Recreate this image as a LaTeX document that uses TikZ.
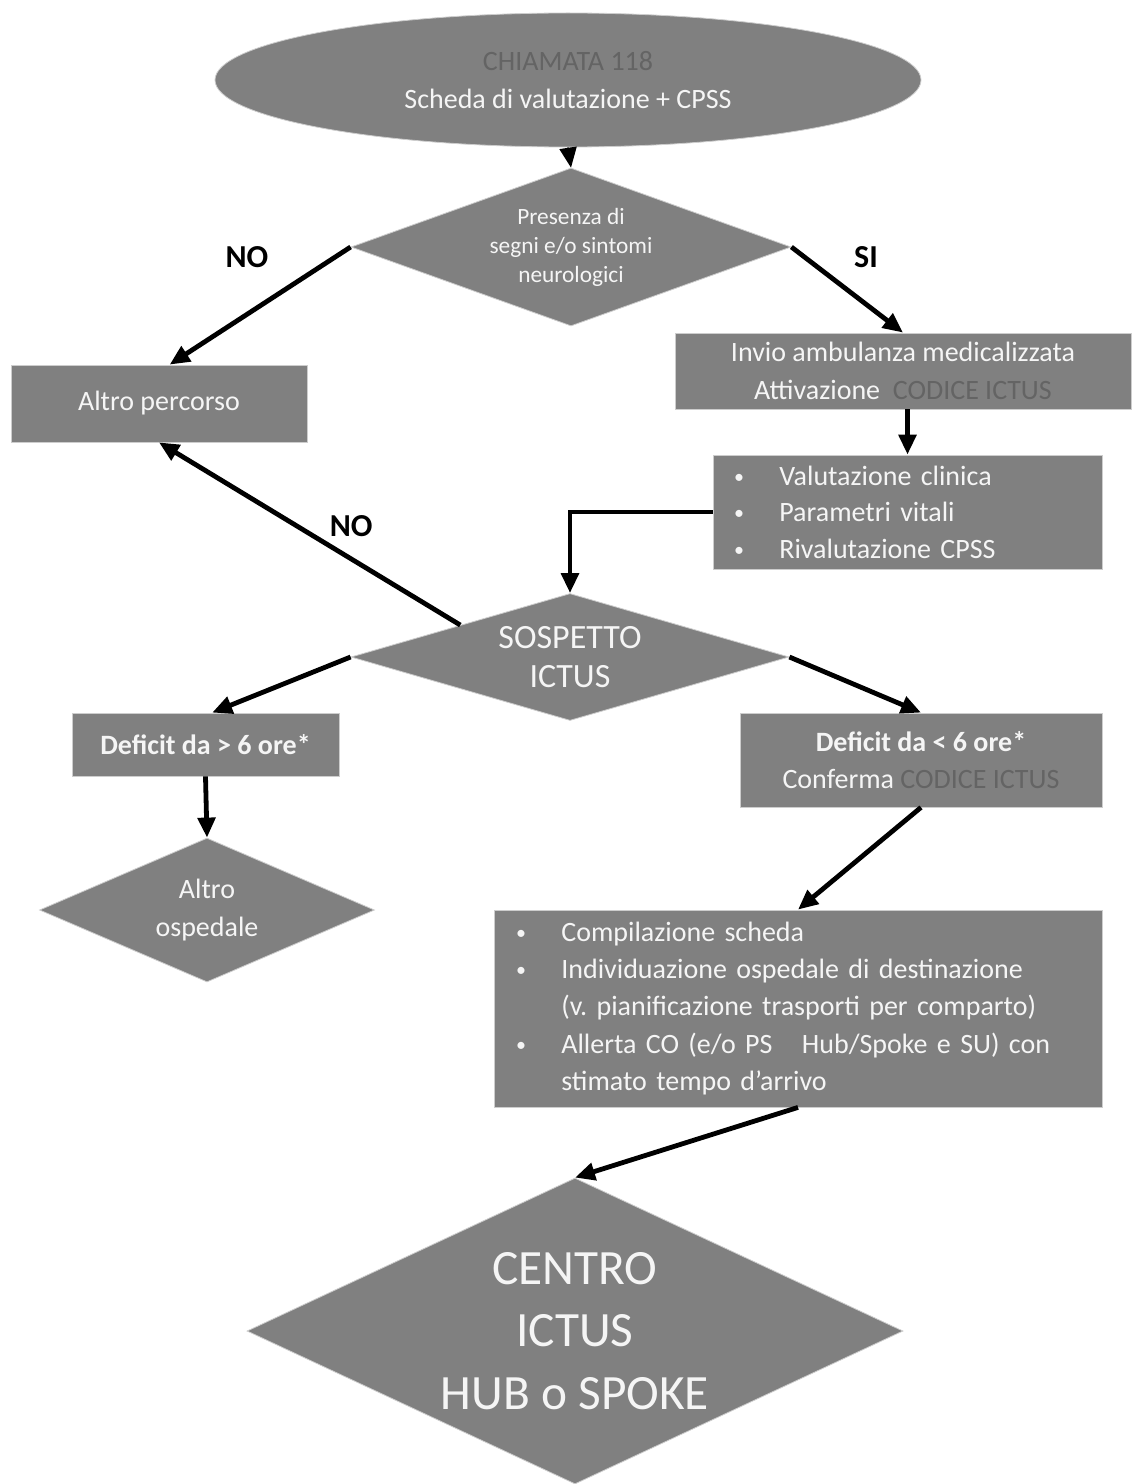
\documentclass[tikz,border=0pt]{standalone}
\usepackage{fontspec}
\setmainfont{Carlito}
\usetikzlibrary{shapes.geometric,arrows.meta}
\frenchspacing

\definecolor{boxgray}{RGB}{128,128,128}
\definecolor{txtwhite}{RGB}{245,245,245}
\definecolor{codegray}{RGB}{100,100,100}
\definecolor{edgegray}{RGB}{205,205,205}

\newcommand{\bul}{\makebox[34pt][l]{\raisebox{1.5pt}{\fontsize{15}{15}\selectfont\textbullet}}}
\newcommand{\codice}{\textcolor{codegray}{CODICE ICTUS}}

\tikzset{every picture/.style={line width=0.75pt}}
\tikzset{
  blk/.style={fill=boxgray, draw=edgegray, line width=0.6pt, text=txtwhite, inner sep=0pt, align=center, font=\fontsize{21}{28}\selectfont},
  flowbox/.style={blk, rectangle},
  decision/.style={blk, diamond},
  flowarrow/.style={draw=black, line width=3.6pt, -{Triangle[length=15pt,width=13pt]}},
  answer/.style={font=\bfseries\fontsize{24}{28}\selectfont, text=black}
}

\begin{document}
\begin{tikzpicture}[x=0.75pt,y=0.75pt,yscale=-1]
  \useasboundingbox (0,0) rectangle (1131,1484);

  %Shape: Ellipse [call]
  \node [blk, ellipse, minimum width=529.5pt, minimum height=100.5pt] (call) at (568,80) {\textcolor{codegray}{CHIAMATA 118}\\Scheda di valutazione + CPSS};
  %Shape: Diamond [neuro]
  \node [decision, aspect=2.78, minimum width=330pt, minimum height=118.5pt, font=\fontsize{17.5}{21.75}\selectfont] (neuro) at (571,247) {Presenza di\\segni e/o sintomi\\neurologici};

  %Shape: Rectangle [altro]
  \node [flowbox, minimum width=222pt, minimum height=57.75pt] (altro) at (159,403.5) {Altro percorso};
  %Shape: Rectangle [invio]
  \node [flowbox, minimum width=342pt, minimum height=57pt] (invio) at (903,371) {Invio ambulanza medicalizzata\\Attivazione \ \codice};
  %Shape: Rectangle [valut]
  \node [flowbox, align=left, inner xsep=15.75pt, text width=260.25pt, minimum height=85.5pt, font=\fontsize{21}{27.4}\selectfont] (valut) at (907.5,512) {\bul Valutazione clinica\\\bul Parametri vitali\\\bul Rivalutazione CPSS};

  %Shape: Diamond [sospetto]
  \node [decision, aspect=3.45, minimum width=328.5pt, minimum height=95.25pt, font=\fontsize{25.5}{29}\selectfont] (sospetto) at (570,657) {SOSPETTO\\ICTUS};

  %Shape: Rectangle [def1]
  \node [flowbox, minimum width=200.25pt, minimum height=47.25pt, font=\bfseries\fontsize{21}{28}\selectfont] (def1) at (205.5,744.5) {Deficit da > 6 ore*};
  %Shape: Rectangle [def2]
  \node [flowbox, minimum width=271.5pt, minimum height=70.5pt] (def2) at (921,760) {\textbf{Deficit da < 6 ore*}\\Conferma \codice};

  %Shape: Diamond [ospedale]
  \node [decision, aspect=2.33, minimum width=251.25pt, minimum height=108pt] (ospedale) at (207,910) {Altro\\ospedale};

  %Shape: Rectangle [compil]
  \node [flowbox, align=left, inner xsep=16.5pt, text width=423pt, minimum height=147.75pt] (compil) at (798,1008.5) {\bul Compilazione scheda\\\bul Individuazione ospedale di destinazione\\\hspace*{34pt}(v. pianificazione trasporti per comparto)\\\bul Allerta CO (e/o PS\hspace{22pt}Hub/Spoke e SU) con\\\hspace*{34pt}stimato tempo d'arrivo};

  %Shape: Diamond [centro]
  \node [decision, aspect=2.14, minimum width=492pt, minimum height=229.5pt, font=\fontsize{37}{47}\selectfont] (centro) at (575,1331) {CENTRO\\ICTUS\\HUB o SPOKE};

  % Text Node
  \node [answer] (no1) at (247,257) {NO};
  % Text Node
  \node [answer] (si1) at (866,257) {SI};

  %Straight Lines
  \draw [flowarrow, line width=1pt] (call.south) -- (neuro.north);
  \draw [flowarrow] (neuro.west) -- ([xshift=8pt]altro.north);
  \draw [flowarrow] (neuro.east) -- (invio.north);
  \draw [flowarrow] (invio.south -| valut.north) -- (valut.north);
  \draw [flowarrow] (valut.west) -| (sospetto.north);
  \draw [flowarrow] (sospetto.north west) -- (altro.south) node [answer, pos=0.54, right=19pt] (no2) {NO};
  \draw [flowarrow] (sospetto.west) -- ([xshift=5pt]def1.north);
  \draw [flowarrow] (sospetto.east) -- (def2.north);
  \draw [flowarrow] (def1.south) -- (ospedale.north);
  \draw [flowarrow] (def2.south) -- (compil.north);
  \draw [flowarrow] (compil.south) -- (centro.north);

\end{tikzpicture}
\end{document}
